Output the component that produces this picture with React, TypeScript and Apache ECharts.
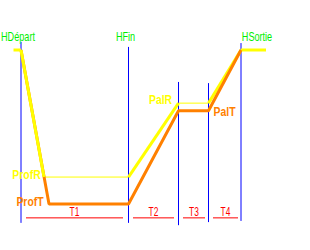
import React, { useEffect, useRef } from "react";
import * as echarts from "echarts";

// Time (minutes) and depth (metres) of the dive profile
const markerNames = ["HDépart", "HFin", "HSortie"];
const markerLabelTimes = [-1.2, 41.8, 94.4];
const markerLabelDepths = [-3.4, -3.4, -3.6];

const markerTimes = [0, 43, 63, 75, 88];
const markerTops = [-2.1, -0.8, 8.3, 8.6, -1.8];
const markerBottoms = [44.9, 44.9, 45.5, 44.7, 44.4];

const realTimes = [-3, 0, 9.2, 43, 63, 75, 88, 98];
const realDepths = [0, 0, 33, 33, 13.8, 13.8, 0, 0];
const realWidths = [3, 3, 1, 3, 1, 3, 3];

const tableTimes = [0, 11.2, 43, 63, 75, 88];
const tableDepths = [0, 40, 40, 15.8, 15.8, 0];

const levelLabels = ["ProfR", "ProfT", "PalR", "PalT"];
const levelLabelTimes = [2.2, 3.6, 55.8, 81.4];
const levelLabelDepths = [32.2, 39.35, 12.86, 15.84];
const levelColors = ["#ffff00", "#ff8000", "#ffff00", "#ff8000"];

const durationLabels = ["T1", "T2", "T3", "T4"];
const durationStarts = [2, 44.8, 64.8, 76.8];
const durationEnds = [40.8, 61.2, 73.6, 86.8];
const durationDepth = 43.6;
const durationLabelDepth = 42.1;

const FONT = '"Liberation Sans", Arial, sans-serif';

export default function App() {
  const ref = useRef<HTMLDivElement>(null);
  useEffect(() => {
    document.body.style.margin = "0";
    if (!ref.current) return;
    const chart = echarts.init(ref.current, undefined, { renderer: "svg" });
    const series: any[] = [];
    const seg = (z: number, color: string, width: number, data: number[][]) => ({
      type: "line",
      clip: false,
      symbol: "none",
      silent: true,
      z,
      lineStyle: { color, width },
      data,
    });

    markerTimes.forEach((t, i) => {
      series.push(seg(1, "#0000ff", 1, [[t, markerTops[i]], [t, markerBottoms[i]]]));
    });
    durationStarts.forEach((s, i) => {
      series.push(seg(1, "#ff0000", 1, [[s, durationDepth], [durationEnds[i], durationDepth]]));
    });
    for (let i = 0; i < realTimes.length - 1; i++) {
      series.push(
        seg(i < 2 ? 4 : 2, "#ffff00", realWidths[i], [
          [realTimes[i], realDepths[i]],
          [realTimes[i + 1], realDepths[i + 1]],
        ])
      );
    }
    series.push(seg(3, "#ff8000", 3, tableTimes.map((t, i) => [t, tableDepths[i]])));

    chart.setOption({
      animation: false,
      backgroundColor: "#ffffff",
      grid: { left: 11, right: 39, top: 30.75, bottom: 7.5 },
      xAxis: { type: "value", min: -4, max: 100, show: false },
      yAxis: { type: "value", min: -5, max: 50, inverse: true, show: false },
      series,
    });

    const toPx = (t: number, d: number) =>
      chart.convertToPixel({ gridIndex: 0 }, [t, d]) as unknown as number[];
    const text = (
      label: string,
      t: number,
      d: number,
      color: string,
      size: number,
      weight: string,
      sx: number
    ) => {
      const [x, y] = toPx(t, d);
      return {
        type: "text",
        x,
        y,
        scaleX: sx,
        silent: true,
        z: 10,
        style: {
          text: label,
          fill: color,
          fontSize: size,
          fontWeight: weight,
          fontFamily: FONT,
          textAlign: "center",
          textVerticalAlign: "middle",
          align: "center",
          verticalAlign: "middle",
        },
      };
    };
    const graphic: any[] = [];
    markerNames.forEach((n, i) =>
      graphic.push(text(n, markerLabelTimes[i], markerLabelDepths[i], "#00ee00", 12, "normal", 0.76))
    );
    levelLabels.forEach((n, i) =>
      graphic.push(text(n, levelLabelTimes[i], levelLabelDepths[i], levelColors[i], 13, "bold", 0.8))
    );
    durationLabels.forEach((n, i) =>
      graphic.push(
        text(n, (durationStarts[i] + durationEnds[i]) / 2, durationLabelDepth, "#ff0000", 12, "normal", 0.7)
      )
    );
    chart.setOption({ graphic });
    return () => chart.dispose();
  }, []);
  return <div ref={ref} style={{ width: 310, height: 250 }} />;
}
